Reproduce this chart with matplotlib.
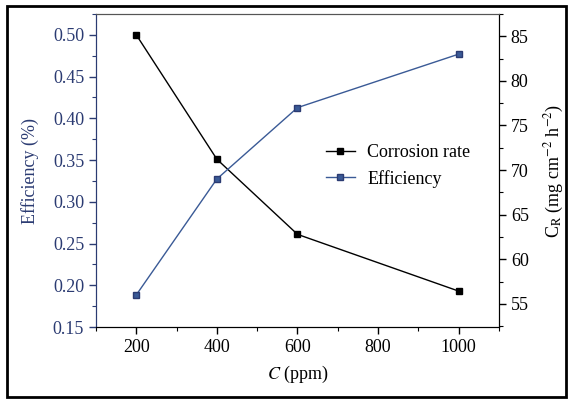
import matplotlib
matplotlib.use('Agg')
import matplotlib.pyplot as plt
from matplotlib.patches import Rectangle
from matplotlib.ticker import MultipleLocator

plt.rcParams['font.family'] = 'Liberation Serif'
plt.rcParams['mathtext.fontset'] = 'stix'

# Data
conc = [200, 400, 600, 1000]
corrosion_rate = [0.500, 0.351, 0.261, 0.193]   # left axis
efficiency = [56.0, 69.0, 77.0, 83.0]           # right axis

navy = '#2b3b72'
blue = '#3a5a96'

fig = plt.figure(figsize=(5.68, 4.0), dpi=100)
ax1 = fig.add_axes([0.169, 0.1825, 0.7095, 0.7825])
ax2 = ax1.twinx()

l1, = ax1.plot(conc, corrosion_rate, color='black', lw=1.0, marker='s', ms=5,
               mfc='black', mec='black', label='Corrosion rate')
l2, = ax2.plot(conc, efficiency, color=blue, lw=1.0, marker='s', ms=5,
               mfc=blue, mec=navy, label='Efficiency')

ax1.set_xlim(100, 1100)
ax1.set_ylim(0.15, 0.525)
ax2.set_ylim(52.4, 87.5)

ax1.xaxis.set_major_locator(MultipleLocator(200))
ax1.xaxis.set_minor_locator(MultipleLocator(100))
ax1.yaxis.set_major_locator(MultipleLocator(0.05))
ax1.yaxis.set_minor_locator(MultipleLocator(0.025))
ax2.yaxis.set_major_locator(MultipleLocator(5))
ax2.yaxis.set_minor_locator(MultipleLocator(2.5))
ax1.yaxis.set_major_formatter(matplotlib.ticker.FormatStrFormatter('%.2f'))

for ax in (ax1, ax2):
    ax.tick_params(which='major', direction='out', length=5, width=1, labelsize=13)
    ax.tick_params(which='minor', direction='out', length=3, width=0.8)
ax1.tick_params(axis='y', which='both', colors=navy, labelcolor=navy)
ax1.tick_params(axis='x', which='both', colors='black')
ax2.tick_params(axis='y', which='both', colors='black')

ax2.spines['left'].set_color(navy)
ax1.spines['left'].set_color(navy)
ax1.spines['top'].set_color('#555555')
ax2.spines['top'].set_color('#555555')

ax1.set_xlabel('$C$ (ppm)', fontsize=13, labelpad=6)
ax1.set_ylabel('Efficiency (%)', fontsize=13, color=navy, labelpad=10)
ax2.set_ylabel(r'C$_\mathrm{R}$ (mg cm$^{-2}$ h$^{-2}$)', fontsize=13, labelpad=10)

ax2.legend(handles=[l1, l2], loc='center left', bbox_to_anchor=(0.53, 0.515),
           frameon=False, fontsize=13, handlelength=1.6, handletextpad=0.7,
           labelspacing=0.5)

# outer frame around the whole figure
fig.patches.append(Rectangle((0.012, 0.008), 0.984, 0.976, transform=fig.transFigure,
                             fill=False, edgecolor='black', lw=2))

fig.savefig('out.png', dpi=100)
